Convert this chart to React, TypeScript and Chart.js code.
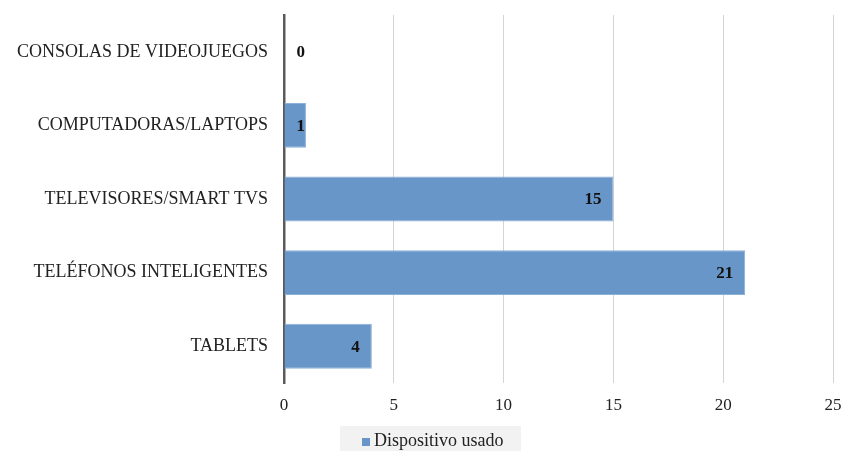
import React, { useEffect, useRef } from "react";
import { Chart, registerables } from "chart.js";

Chart.register(...registerables);

const categories = [
  "CONSOLAS DE VIDEOJUEGOS",
  "COMPUTADORAS/LAPTOPS",
  "TELEVISORES/SMART TVS",
  "TELÉFONOS INTELIGENTES",
  "TABLETS",
];
const values = [0, 1, 15, 21, 4];
const seriesName = "Dispositivo usado";
const xMin = 0;
const xMax = 25;
const xStep = 5;

const FONT = "'Liberation Serif', 'Times New Roman', serif";
const BAR = "rgb(105,150,200)";

const valueLabels = {
  id: "valueLabels",
  afterDatasetsDraw(chart: any) {
    const ctx = chart.ctx;
    const meta = chart.getDatasetMeta(0);
    const axisX = chart.scales.x.getPixelForValue(0);
    ctx.save();
    ctx.font = `bold 17px ${FONT}`;
    ctx.fillStyle = "#111";
    ctx.textAlign = "right";
    ctx.textBaseline = "middle";
    meta.data.forEach((el: any, i: number) => {
      const right = Math.max(el.x - 12, axisX + 21);
      ctx.fillText(String(values[i]), right, el.y + 1);
    });
    ctx.restore();
  },
};

const customLegend = {
  id: "customLegend",
  afterDraw(chart: any) {
    const ctx = chart.ctx;
    ctx.save();
    ctx.fillStyle = "#f2f2f2";
    ctx.fillRect(340, 426, 181, 25);
    ctx.fillStyle = BAR;
    ctx.fillRect(362, 438, 8, 8);
    ctx.font = `18px ${FONT}`;
    ctx.fillStyle = "#222";
    ctx.textAlign = "left";
    ctx.textBaseline = "alphabetic";
    ctx.fillText(seriesName, 374, 446);
    ctx.restore();
  },
};

export default function App() {
  const ref = useRef<HTMLCanvasElement>(null);
  useEffect(() => {
    const chart = new Chart(ref.current!, {
      type: "bar",
      data: {
        labels: categories,
        datasets: [
          {
            label: seriesName,
            data: values,
            backgroundColor: BAR,
            borderColor: "rgb(140,176,216)",
            borderWidth: 1,
            barPercentage: 0.61,
            categoryPercentage: 1,
          },
        ],
      },
      options: {
        indexAxis: "y",
        animation: false,
        responsive: false,
        maintainAspectRatio: false,
        layout: { padding: { top: 15, right: 10, left: 0, bottom: 0 } },
        plugins: {
          legend: { display: false },
          tooltip: { enabled: false },
        },
        scales: {
          x: {
            min: xMin,
            max: xMax,
            ticks: {
              stepSize: xStep,
              padding: 12,
              color: "#222",
              font: { family: FONT, size: 17 },
            },
            grid: { color: "#d4d4d4", lineWidth: 1, drawTicks: false },
            border: { display: false },
            afterFit(scale: any) {
              scale.height = 68;
              scale.paddingLeft = 0;
              scale.paddingRight = 0;
              scale.paddingTop = 0;
              scale.paddingBottom = 0;
            },
          },
          y: {
            ticks: {
              padding: 16,
              color: "#222",
              font: { family: FONT, size: 18 },
            },
            grid: { display: false, drawTicks: false },
            border: { display: true, color: "#5a5a5a", width: 2.5 },
            afterFit(scale: any) {
              scale.width = 284;
              scale.paddingLeft = 0;
              scale.paddingRight = 0;
              scale.paddingTop = 0;
              scale.paddingBottom = 0;
            },
          },
        },
      },
      plugins: [valueLabels, customLegend],
    });
    return () => chart.destroy();
  }, []);
  return (
    <div style={{ position: "fixed", left: 0, top: 0, width: 843, height: 451, background: "#fff" }}>
      <canvas ref={ref} width={843} height={451} style={{ display: "block" }} />
    </div>
  );
}
